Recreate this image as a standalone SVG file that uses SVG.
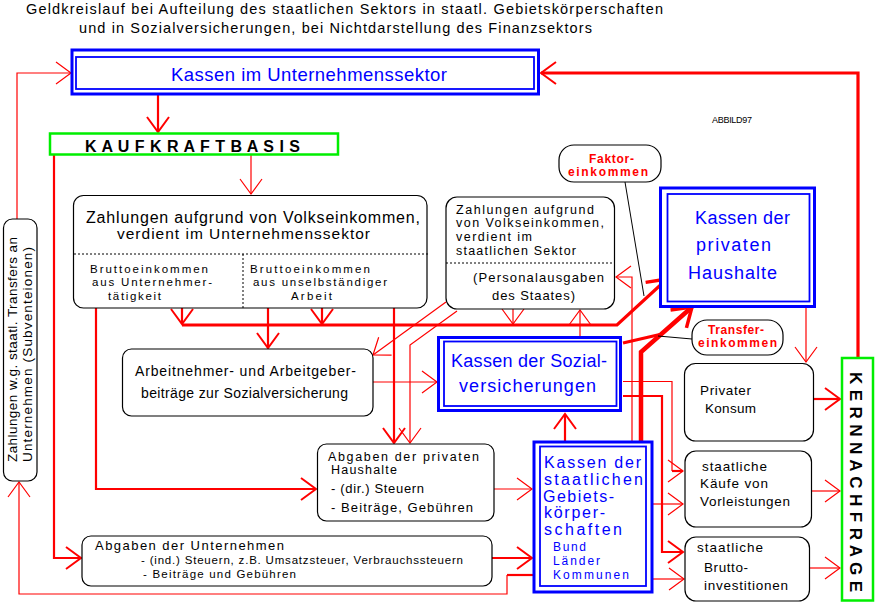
<svg xmlns="http://www.w3.org/2000/svg" width="875" height="603" viewBox="0 0 875 603">
<style>
text{font-family:"Liberation Sans",Arial,sans-serif;fill:#000}
.b{fill:#0000ff}
.r{fill:#ff0000;font-weight:bold}
.box{fill:#fff;stroke:#000;stroke-width:1.2}
.ob{fill:#fff;stroke:#0000ff;stroke-width:3}
.ib{fill:none;stroke:#0000ff;stroke-width:1.8}
.gr{fill:#fff;stroke:#00ee00;stroke-width:2.5}
.dash{stroke:#000;stroke-width:1;stroke-dasharray:2,2;fill:none}
.c{fill:none;stroke:#ff0000;stroke-linejoin:miter}
.w1{stroke-width:1.2}
.w2{stroke-width:2.2}
.w3{stroke-width:3.2}
.w4{stroke-width:4.5}
.ptr{stroke:#000;stroke-width:1;fill:none}
</style>
<defs>
<marker id="a1" viewBox="-20 -14 24 28" markerWidth="24" markerHeight="28" refX="0" refY="0" orient="auto" markerUnits="userSpaceOnUse"><path d="M-15,-11 L0,0 L-15,11" fill="none" stroke="#ff0000" stroke-width="1.2"/></marker>
<marker id="a2" viewBox="-20 -14 24 28" markerWidth="24" markerHeight="28" refX="0" refY="0" orient="auto" markerUnits="userSpaceOnUse"><path d="M-15,-11 L0,0 L-15,11" fill="none" stroke="#ff0000" stroke-width="2"/></marker>
<marker id="a3" viewBox="-24 -16 28 32" markerWidth="28" markerHeight="32" refX="0" refY="0" orient="auto" markerUnits="userSpaceOnUse"><path d="M-18,-12 L0,0 L-18,12" fill="none" stroke="#ff0000" stroke-width="3.5" stroke-linejoin="round"/></marker>
</defs>
<rect width="875" height="603" fill="#fff"/>

<g id="title">
<text x="26" y="14" font-size="14.5" textLength="637">Geldkreislauf bei Aufteilung des staatlichen Sektors in staatl. Gebietskörperschaften</text>
<text x="79" y="33" font-size="14.5" textLength="513">und in Sozialversicherungen,  bei Nichtdarstellung des Finanzsektors</text>
</g>
<g id="abbild"><text x="712" y="123" font-size="9" textLength="40">ABBILD97</text></g>

<g id="connectors">
<path class="c w1" d="M17,219 V73 H71" marker-end="url(#a1)"/>
<path class="c w2" d="M533,575 H507"/>
<path class="c w1" d="M507,575 V594 H19 V482" marker-end="url(#a1)"/>
<path class="c w2" d="M158,95 V132" marker-end="url(#a2)"/>
<path class="c w1" d="M251,155 V194" marker-end="url(#a1)"/>
<path class="c w2" d="M54,155 V558 H81" marker-end="url(#a2)"/>
<path class="c w2" d="M96,308 V489 H316" marker-end="url(#a2)"/>
<path class="c w2" d="M182,308 V324" marker-end="url(#a2)"/>
<path class="c w3" d="M182,325 H617 L667,279" marker-end="url(#a3)"/>
<path class="c w2" d="M268,308 V348" marker-end="url(#a2)"/>
<path class="c w2" d="M322,308 V324" marker-end="url(#a2)"/>
<path class="c w2" d="M394,308 V443" marker-end="url(#a2)"/>
<path class="c w1" d="M457,311 L410,345 V443" marker-end="url(#a1)"/>
<path class="c w1" d="M446,302 L373,355" marker-end="url(#a1)"/>
<path class="c w1" d="M513,309 V324" marker-end="url(#a1)"/>
<path class="c w1" d="M580,336 V310" marker-end="url(#a1)"/>
<path class="c w1" d="M632,441 V277 H616" marker-end="url(#a1)"/>
<path class="c w1" d="M373,382 H437" marker-end="url(#a1)"/>
<path class="c w2" d="M565,441 V414" marker-end="url(#a2)"/>
<path class="c w4" d="M641,441 V352 L692,307" marker-end="url(#a3)"/>
<path class="c w3" d="M623,343 L662,334"/>
<path class="c w1" d="M623,381.5 H672 V471"/>
<path class="c w2" d="M672,471 H683" marker-end="url(#a1)"/>
<path class="c w2" d="M623,396 H662 V552 H683" marker-end="url(#a2)"/>
<path class="c w1" d="M653,504 H683" marker-end="url(#a1)"/>
<path class="c w1" d="M653,579 H684" marker-end="url(#a1)"/>
<path class="c w1" d="M494,489 H532" marker-end="url(#a1)"/>
<path class="c w2" d="M492,558 H532" marker-end="url(#a2)"/>
<path class="c w1" d="M806,307 V362" marker-end="url(#a1)"/>
<path class="c w2" d="M813,399 H840" marker-end="url(#a2)"/>
<path class="c w1" d="M811,491 H840" marker-end="url(#a1)"/>
<path class="c w1" d="M809,568 H840" marker-end="url(#a1)"/>
<path class="c w3" d="M858,357 V73 H541" marker-end="url(#a2)"/>
<path class="ptr" d="M625,182 L644,296"/>
<path class="ptr" d="M658,336 L692,339"/>
</g>

<g id="kassen-unternehmen">
<rect class="ob" x="72" y="50" width="466.5" height="44"/>
<rect class="ib" x="76" y="57" width="458" height="32"/>
<text class="b" x="171" y="81" font-size="18.5" textLength="276">Kassen im Unternehmenssektor</text>
</g>

<g id="kaufkraftbasis">
<rect class="gr" x="50" y="133.5" width="288" height="21"/>
<text x="85" y="152" font-size="16" font-weight="bold" textLength="215">K A U F K R A F T B A S I S</text>
</g>

<g id="subventionen">
<rect class="box" x="3.5" y="219" width="33.5" height="262" rx="9"/>
<text transform="translate(17,462) rotate(-90)" font-size="13.5" textLength="225">Zahlungen w.g. staatl. Transfers an</text>
<text transform="translate(32,462) rotate(-90)" font-size="13.5" textLength="215">Unternehmen  (Subventeionen)</text>
</g>

<g id="zahlungen-unternehmen">
<rect class="box" x="73.5" y="195.5" width="353.5" height="112.5" rx="10"/>
<path class="dash" d="M74,254 H430 M243,254 V308"/>
<text x="86" y="223" font-size="16" textLength="334">Zahlungen aufgrund von Volkseinkommen,</text>
<text x="117" y="239" font-size="15.5" textLength="253">verdient im Unternehmenssektor</text>
<text x="90" y="273" font-size="11.5" textLength="118">Bruttoeinkommen</text>
<text x="92" y="286" font-size="11.5" textLength="120">aus Unternehmer-</text>
<text x="108" y="300" font-size="11.5" textLength="53">tätigkeit</text>
<text x="250" y="273" font-size="11.5" textLength="120">Bruttoeinkommen</text>
<text x="253" y="286" font-size="11.5" textLength="134">aus unselbständiger</text>
<text x="291" y="300" font-size="11.5" textLength="41">Arbeit</text>
</g>

<g id="zahlungen-staat">
<rect class="box" x="446" y="197" width="168.5" height="112" rx="11"/>
<path class="dash" d="M446,263 H614"/>
<text x="456" y="214" font-size="12.5" textLength="138">Zahlungen aufgrund</text>
<text x="456" y="227" font-size="12.5" textLength="148">von Volkseinkommen,</text>
<text x="456" y="241" font-size="12.5" textLength="76">verdient im</text>
<text x="456" y="255" font-size="12.5" textLength="120">staatlichen Sektor</text>
<text x="473" y="282" font-size="13" textLength="131">(Personalausgaben</text>
<text x="492" y="300" font-size="13" textLength="83">des Staates)</text>
</g>

<g id="faktoreinkommen">
<rect class="box" x="559" y="145" width="102" height="37" rx="15"/>
<text class="r" x="589" y="163" font-size="12" textLength="45">Faktor-</text>
<text class="r" x="568" y="176" font-size="12" textLength="80">einkommen</text>
</g>

<g id="kassen-haushalte">
<rect class="ob" x="660.5" y="188" width="154" height="118.5"/>
<rect class="ib" x="667.5" y="194" width="142" height="107.5"/>
<text class="b" x="695" y="224" font-size="18" textLength="95">Kassen der</text>
<text class="b" x="696" y="251" font-size="18" textLength="75">privaten</text>
<text class="b" x="688" y="279" font-size="18" textLength="89">Haushalte</text>
</g>

<g id="transfereinkommen">
<rect class="box" x="692" y="320" width="91" height="35" rx="15"/>
<text class="r" x="708" y="334" font-size="12" textLength="56">Transfer-</text>
<text class="r" x="698" y="347" font-size="12" textLength="79">einkommen</text>
</g>

<g id="arbeitnehmerbeitraege">
<rect class="box" x="122.5" y="349" width="250.5" height="67" rx="9"/>
<text x="135" y="376" font-size="14" textLength="221">Arbeitnehmer- und Arbeitgeber-</text>
<text x="141" y="398" font-size="14" textLength="207">beiträge zur Sozialversicherung</text>
</g>

<g id="kassen-sozialversicherungen">
<rect class="ob" x="438.5" y="337.5" width="182" height="73"/>
<rect class="ib" x="444" y="341.5" width="172.5" height="64.5"/>
<text class="b" x="451" y="367" font-size="18" textLength="156">Kassen der Sozial-</text>
<text class="b" x="459" y="392" font-size="18" textLength="137">versicherungen</text>
</g>

<g id="abgaben-haushalte">
<rect class="box" x="317.5" y="444" width="176.5" height="77" rx="9"/>
<text x="328" y="461" font-size="12.5" textLength="151">Abgaben der privaten</text>
<text x="331" y="474" font-size="12.5" textLength="66">Haushalte</text>
<text x="331" y="493" font-size="13" textLength="93">- (dir.) Steuern</text>
<text x="331" y="512" font-size="13" textLength="142">- Beiträge, Gebühren</text>
</g>

<g id="abgaben-unternehmen">
<rect class="box" x="82" y="536" width="410" height="50" rx="9"/>
<text x="95" y="550" font-size="13" textLength="189">Abgaben der Unternehmen</text>
<text x="141" y="564" font-size="11.5" textLength="322">- (ind.) Steuern, z.B. Umsatzsteuer, Verbrauchssteuern</text>
<text x="143" y="578" font-size="11.5" textLength="153">- Beiträge und Gebühren</text>
</g>

<g id="kassen-gebietskoerperschaften">
<rect class="ob" x="534" y="442" width="118" height="150"/>
<rect class="ib" x="540" y="446.5" width="106" height="139.5"/>
<text class="b" x="544" y="468" font-size="16" textLength="97">Kassen der</text>
<text class="b" x="544" y="485" font-size="16" textLength="99">staatlichen</text>
<text class="b" x="543" y="502" font-size="16" textLength="71">Gebiets-</text>
<text class="b" x="544" y="518" font-size="16" textLength="61">körper-</text>
<text class="b" x="544" y="535" font-size="16" textLength="78">schaften</text>
<text class="b" x="553" y="551" font-size="12" textLength="33">Bund</text>
<text class="b" x="553" y="565" font-size="12" textLength="47">Länder</text>
<text class="b" x="553" y="579" font-size="12" textLength="76">Kommunen</text>
</g>

<g id="privater-konsum">
<rect class="box" x="684.5" y="363.5" width="129" height="77.5" rx="11"/>
<text x="700" y="395" font-size="13.5" textLength="51">Privater</text>
<text x="705" y="413" font-size="13.5" textLength="51">Konsum</text>
</g>

<g id="vorleistungen">
<rect class="box" x="685" y="451" width="126.5" height="76" rx="11"/>
<text x="702" y="471" font-size="13.5" textLength="65">staatliche</text>
<text x="700" y="488" font-size="13.5" textLength="68">Käufe von</text>
<text x="700" y="506" font-size="13.5" textLength="90">Vorleistungen</text>
</g>

<g id="bruttoinvestitionen">
<rect class="box" x="685" y="537" width="124.5" height="64" rx="11"/>
<text x="697" y="552" font-size="13.5" textLength="66">staatliche</text>
<text x="704" y="572" font-size="13.5" textLength="44">Brutto-</text>
<text x="704" y="590" font-size="13.5" textLength="84">investitionen</text>
</g>

<g id="kernnachfrage">
<rect class="gr" x="842" y="358" width="31" height="242.5"/>
<text transform="translate(850,372) rotate(90)" font-size="17" font-weight="bold" textLength="220">K E R N N A C H F R A G E</text>
</g>
</svg>
